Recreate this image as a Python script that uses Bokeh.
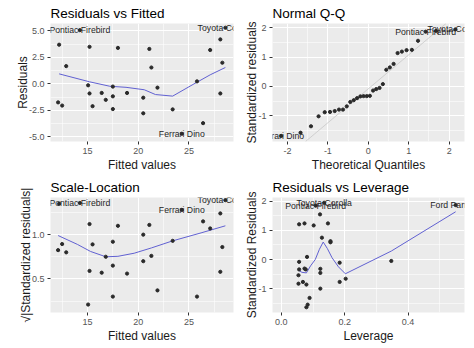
from bokeh.plotting import figure
from bokeh.layouts import gridplot
from bokeh.models import Range1d, FixedTicker, Slope
from bokeh.embed import file_html
from bokeh.resources import INLINE

# ---------------- data ----------------
# Panel 1: Residuals vs Fitted
fitted = [12.2, 12.1, 12.5, 12.9, 14.24, 15.2, 15.06, 15.2, 15.5, 16.4, 16.8, 17.5, 17.5, 17.5, 18.0,
          18.9, 20.5, 20.5, 21.1, 21.3, 21.9, 23.4, 24.3, 25.8, 26.4, 27.1, 28.1, 28.3, 28.1, 28.6]
residuals = [3.7, -1.74, -2.04, 1.68, 5.07, 3.5, -0.13, -0.9, -2.1, -0.85, -1.5, -0.25, -1.17, -2.37, 3.4,
             -0.85, -1.3, -2.77, 3.3, 1.55, -0.35, -2.4, -4.7, 0.24, -3.7, 3.2, 4.2, 2.0, -0.9, 5.3]
smooth1_x = [12.2, 15.2, 17.2, 18.8, 20.6, 21.7, 23.4, 25.5, 27.1, 28.6]
smooth1_y = [0.95, 0.2, -0.22, -0.32, -0.55, -1.0, -1.15, 0.0, 0.86, 1.55]
labels1 = ["Pontiac Firebird", "Ferrari Dino", "Toyota Corolla"]
labels1_x = [14.24, 24.3, 28.6]
labels1_y = [5.07, -4.7, 5.3]

# Panel 2: Normal Q-Q
theoretical = [-2.154, -1.676, -1.418, -1.230, -1.078, -0.947, -0.831, -0.725, -0.626, -0.533, -0.445,
               -0.360, -0.278, -0.197, -0.118, -0.039, 0.039, 0.118, 0.197, 0.278, 0.360, 0.445, 0.533,
               0.626, 0.725, 0.831, 0.947, 1.078, 1.230, 1.418, 1.676, 2.154]
std_resid = [-1.69, -1.58, -1.36, -1.02, -0.88, -0.87, -0.84, -0.79, -0.79, -0.68, -0.53, -0.47, -0.40,
             -0.34, -0.33, -0.33, -0.32, -0.14, -0.09, -0.05, 0.08, 0.57, 0.65, 0.77, 1.14, 1.19, 1.24,
             1.25, 1.56, 1.87, 1.90, 1.95]
qq_intercept = -0.08
qq_slope = 1.16
labels2 = ["Ferrari Dino", "Pontiac Firebird", "Toyota Corolla"]
labels2_x = [-2.154, 1.418, 2.154]
labels2_y = [-1.69, 1.87, 1.95]

# Panel 3: Scale-Location
sqrt_std = [1.35, 0.825, 0.894, 0.8, 1.358, 1.12, 0.21, 0.59, 0.89, 0.57, 0.75, 0.30, 0.65, 0.92, 1.1,
            0.56, 0.70, 1.0, 1.11, 0.76, 0.37, 0.93, 1.28, 0.30, 1.15, 1.07, 1.24, 0.86, 0.58, 1.39]
smooth3_x = [12.1, 14.0, 15.3, 16.8, 18.0, 19.6, 21.3, 23.4, 26.2, 28.6]
smooth3_y = [0.99, 0.89, 0.81, 0.75, 0.755, 0.79, 0.85, 0.93, 1.02, 1.10]
labels3 = ["Pontiac Firebird", "Ferrari Dino", "Toyota Corolla"]
labels3_x = [14.24, 24.3, 28.6]
labels3_y = [1.358, 1.28, 1.39]

# Panel 4: Residuals vs Leverage
leverage = [0.056, 0.056, 0.054, 0.054, 0.056, 0.073, 0.077, 0.068, 0.079, 0.081, 0.073, 0.079, 0.083,
            0.089, 0.102, 0.122, 0.123, 0.123, 0.123, 0.128, 0.147, 0.155, 0.155, 0.184, 0.184, 0.203,
            0.347, 0.55, 0.135, 0.108]
std_resid4 = [-0.08, -0.34, -0.54, -0.83, 1.21, -0.31, -0.34, -0.77, -0.86, 0.09, 1.24, -1.64, -1.55,
              -1.32, 1.17, 1.55, -0.32, -0.46, -1.0, 0.75, 1.24, 0.63, 0.59, -0.11, -0.77, -0.66,
              -0.05, 1.87, 1.95, 1.85]
smooth4_x = [0.054, 0.065, 0.079, 0.092, 0.107, 0.120, 0.132, 0.145, 0.16, 0.18, 0.202, 0.347, 0.55]
smooth4_y = [-0.37, -0.44, -0.46, -0.22, 0.0, 0.35, 0.6, 0.38, 0.06, -0.25, -0.49, 0.29, 1.64]
labels4 = ["Pontiac Firebird", "Toyota Corolla", "Ford Pantera"]
labels4_x = [0.108, 0.135, 0.55]
labels4_y = [1.85, 1.95, 1.87]

# ---------------- styling ----------------
FONT = "Liberation Sans"
PT_COLOR = "#2a2a2a"
LINE_COLOR = "#6161d2"


def make_panel(title, xlabel, ylabel, xr, yr, xt, xmt, xlab, yt, ymt, ylab,
               left, right, bottom):
    p = figure(width=237, height=174, output_backend="svg", toolbar_location=None,
               x_range=Range1d(*xr), y_range=Range1d(*yr),
               min_border_left=left, min_border_right=right,
               min_border_top=23, min_border_bottom=bottom)
    p.title.text = title
    p.title.text_font = FONT
    p.title.text_font_size = "13.5px"
    p.title.text_font_style = "normal"
    p.title.text_color = "black"
    p.title.align = "left"
    p.title.standoff = 6
    p.title.offset = 0
    p.background_fill_color = "#EBEBEB"
    p.border_fill_color = "white"
    p.outline_line_color = None

    p.xaxis.ticker = FixedTicker(ticks=xt, minor_ticks=xmt)
    p.yaxis.ticker = FixedTicker(ticks=yt, minor_ticks=ymt)
    p.xaxis.major_label_overrides = dict(zip(xt, xlab))
    p.yaxis.major_label_overrides = dict(zip(yt, ylab))
    p.xaxis.axis_label = xlabel
    p.yaxis.axis_label = ylabel
    for ax in (p.xaxis, p.yaxis):
        ax.axis_line_color = None
        ax.major_tick_line_color = "#333333"
        ax.major_tick_out = 3
        ax.major_tick_in = 0
        ax.minor_tick_line_color = None
        ax.major_label_text_font = FONT
        ax.major_label_text_font_size = "9px"
        ax.major_label_text_color = "#555555"
        ax.major_label_standoff = 2
        ax.axis_label_text_font = FONT
        ax.axis_label_text_font_size = "12px"
        ax.axis_label_text_font_style = "normal"
        ax.axis_label_text_color = "#1a1a1a"
        ax.axis_label_standoff = 1
    p.yaxis.axis_label_standoff = -4
    for g in (p.xgrid, p.ygrid):
        g.grid_line_color = "white"
        g.grid_line_width = 1.1
        g.minor_grid_line_color = "white"
        g.minor_grid_line_width = 0.55
    return p


def add_labels(p, xs, ys, texts):
    p.text(x=xs, y=ys, text=texts, text_align="center", text_baseline="middle",
           text_font_size="8.7px", text_color="#262626", text_font={"value": FONT})


# Panel 1
p1 = make_panel("Residuals vs Fitted", "Fitted values", "Residuals",
                (11.35, 29.4), (-5.43, 5.7),
                [15, 20, 25], [12.5, 17.5, 22.5, 27.5], ["15", "20", "25"],
                [-5, -2.5, 0, 2.5, 5], [-3.75, -1.25, 1.25, 3.75], ["-5.0", "-2.5", "0.0", "2.5", "5.0"],
                50, 4, 32)
p1.line(smooth1_x, smooth1_y, line_color=LINE_COLOR, line_width=1)
p1.scatter(fitted, residuals, size=3.2, color=PT_COLOR)
add_labels(p1, labels1_x, labels1_y, labels1)

# Panel 2
p2 = make_panel("Normal Q-Q", "Theoretical Quantiles", "Standardized residuals",
                (-2.37, 2.38), (-1.88, 2.15),
                [-2, -1, 0, 1, 2], [-1.5, -0.5, 0.5, 1.5], ["-2", "-1", "0", "1", "2"],
                [-1, 0, 1, 2], [-1.5, -0.5, 0.5, 1.5], ["-1", "0", "1", "2"],
                35, 10, 32)
p2.add_layout(Slope(gradient=qq_slope, y_intercept=qq_intercept, line_color="#c8c8c8",
                    line_width=0.8, level="underlay"))
p2.scatter(theoretical, std_resid, size=3.2, color=PT_COLOR)
add_labels(p2, labels2_x, labels2_y, labels2)

# Panel 3
p3 = make_panel("Scale-Location", "Fitted values", "\u221a|Standardized residuals|",
                (11.35, 29.4), (0.12, 1.42),
                [15, 20, 25], [12.5, 17.5, 22.5, 27.5], ["15", "20", "25"],
                [0.5, 1.0], [0.25, 0.75, 1.25], ["0.5", "1.0"],
                50, 4, 32)
p3.line(smooth3_x, smooth3_y, line_color=LINE_COLOR, line_width=1)
p3.scatter(fitted, sqrt_std, size=3.2, color=PT_COLOR)
add_labels(p3, labels3_x, labels3_y, labels3)

# Panel 4
p4 = make_panel("Residuals vs Leverage", "Leverage", "Standardized Residuals",
                (-0.028, 0.578), (-1.82, 2.13),
                [0.0, 0.2, 0.4], [0.1, 0.3, 0.5], ["0.0", "0.2", "0.4"],
                [-1, 0, 1, 2], [-1.5, -0.5, 0.5, 1.5], ["-1", "0", "1", "2"],
                35, 10, 36)
p4.line(smooth4_x, smooth4_y, line_color=LINE_COLOR, line_width=1)
p4.scatter(leverage, std_resid4, size=3.2, color=PT_COLOR)
add_labels(p4, labels4_x, labels4_y, labels4)

grid = gridplot([[p1, p2], [p3, p4]], toolbar_location=None)

open("out.html", "w").write(file_html(grid, INLINE))
